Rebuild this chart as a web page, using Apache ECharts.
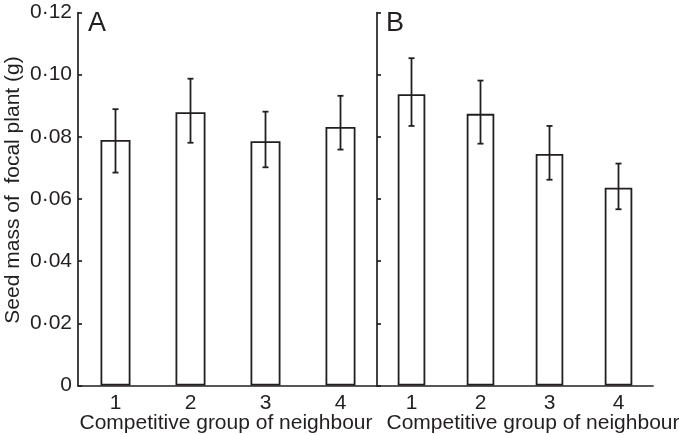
<!DOCTYPE html>
<html>
<head>
<meta charset="utf-8">
<script src="https://cdn.jsdelivr.net/npm/echarts@6/dist/echarts.min.js"></script>
<style>
html,body{margin:0;padding:0;background:#fff;}
#chart{width:679px;height:435px;}
</style>
</head>
<body>
<div id="chart"></div>
<script>
const categories = ['1', '2', '3', '4'];
const meanA  = [0.0790, 0.0879, 0.0786, 0.0832];
const upperA = [0.0889, 0.0987, 0.0881, 0.0932];
const lowerA = [0.0685, 0.0781, 0.0702, 0.0759];
const meanB  = [0.0937, 0.0874, 0.0745, 0.0636];
const upperB = [0.1053, 0.0981, 0.0835, 0.0714];
const lowerB = [0.0835, 0.0778, 0.0662, 0.0567];
const yMin = 0, yMax = 0.12, yStep = 0.02;
const xTitle = 'Competitive group of neighbour';
const yTitle = 'Seed mass of  focal plant (g)';
const panelLetters = ['A', 'B'];

const INK = '#231f20';
const FONT = 'Liberation Sans, Arial, Helvetica, sans-serif';
const FS = 21;

function fmt(v) {
  if (v === 0) return '0';
  return v.toFixed(2).replace('.', '\u00B7');
}

function errItem(params, api) {
  const x = api.value(0), lo = api.value(1), hi = api.value(2);
  const pHi = api.coord([x, hi]);
  const pLo = api.coord([x, lo]);
  const hw = 3;
  const st = { stroke: INK, lineWidth: 1.8 };
  return {
    type: 'group',
    children: [
      { type: 'line', shape: { x1: pHi[0], y1: pHi[1], x2: pLo[0], y2: pLo[1] }, style: st },
      { type: 'line', shape: { x1: pHi[0] - hw, y1: pHi[1], x2: pHi[0] + hw, y2: pHi[1] }, style: st },
      { type: 'line', shape: { x1: pLo[0] - hw, y1: pLo[1], x2: pLo[0] + hw, y2: pLo[1] }, style: st }
    ]
  };
}

function xAxisCfg(gi) {
  return {
    type: 'category', gridIndex: gi, data: categories,
    axisLine: { lineStyle: { color: INK, width: 1.7 } },
    axisTick: { inside: true, length: 4, lineStyle: { color: INK, width: 1.7 } },
    axisLabel: { color: INK, fontSize: FS, fontFamily: FONT, margin: 7 },
    splitLine: { show: false }
  };
}
function yAxisCfg(gi, showLabels) {
  return {
    type: 'value', gridIndex: gi, min: yMin, max: yMax, interval: yStep,
    axisLine: { show: true, lineStyle: { color: INK, width: 1.7 } },
    axisTick: { show: true, inside: true, length: 4, lineStyle: { color: INK, width: 1.7 } },
    axisLabel: { show: showLabels, color: INK, fontSize: FS, fontFamily: FONT, margin: 6, formatter: fmt },
    splitLine: { show: false }
  };
}
function barCfg(idx, data) {
  return {
    type: 'bar', xAxisIndex: idx, yAxisIndex: idx, data: data, barWidth: '40%',
    itemStyle: { color: '#ffffff', borderColor: INK, borderWidth: 1.8 },
    silent: true
  };
}
function errCfg(idx, lo, hi) {
  return {
    type: 'custom', xAxisIndex: idx, yAxisIndex: idx, renderItem: errItem, z: 5,
    data: categories.map((c, i) => [i, lo[i], hi[i]]), silent: true
  };
}

const chart = echarts.init(document.getElementById('chart'), null, { renderer: 'canvas' });
chart.setOption({
  animation: false,
  backgroundColor: '#ffffff',
  grid: [
    { left: 78, top: 12.5, width: 300, height: 373 },
    { left: 377, top: 12.5, width: 276, height: 373 }
  ],
  xAxis: [xAxisCfg(0), xAxisCfg(1)],
  yAxis: [yAxisCfg(0, true), yAxisCfg(1, false)],
  series: [
    barCfg(0, meanA), errCfg(0, lowerA, upperA),
    barCfg(1, meanB), errCfg(1, lowerB, upperB)
  ],
  graphic: [
    { type: 'text', left: 88, top: 10, style: { text: panelLetters[0], fontSize: 27, fontFamily: FONT, fill: INK } },
    { type: 'text', left: 386, top: 10, style: { text: panelLetters[1], fontSize: 27, fontFamily: FONT, fill: INK } },
    { type: 'text', x: 226, y: 423, style: { text: xTitle, fontSize: FS, fontFamily: FONT, fill: INK, align: 'center', verticalAlign: 'middle' } },
    { type: 'text', x: 533, y: 423, style: { text: xTitle, fontSize: FS, fontFamily: FONT, fill: INK, align: 'center', verticalAlign: 'middle' } },
    { type: 'text', x: 13, y: 190, rotation: Math.PI / 2, style: { text: yTitle, fontSize: FS, fontFamily: FONT, fill: INK, align: 'center', verticalAlign: 'middle' } }
  ]
});
</script>
</body>
</html>
